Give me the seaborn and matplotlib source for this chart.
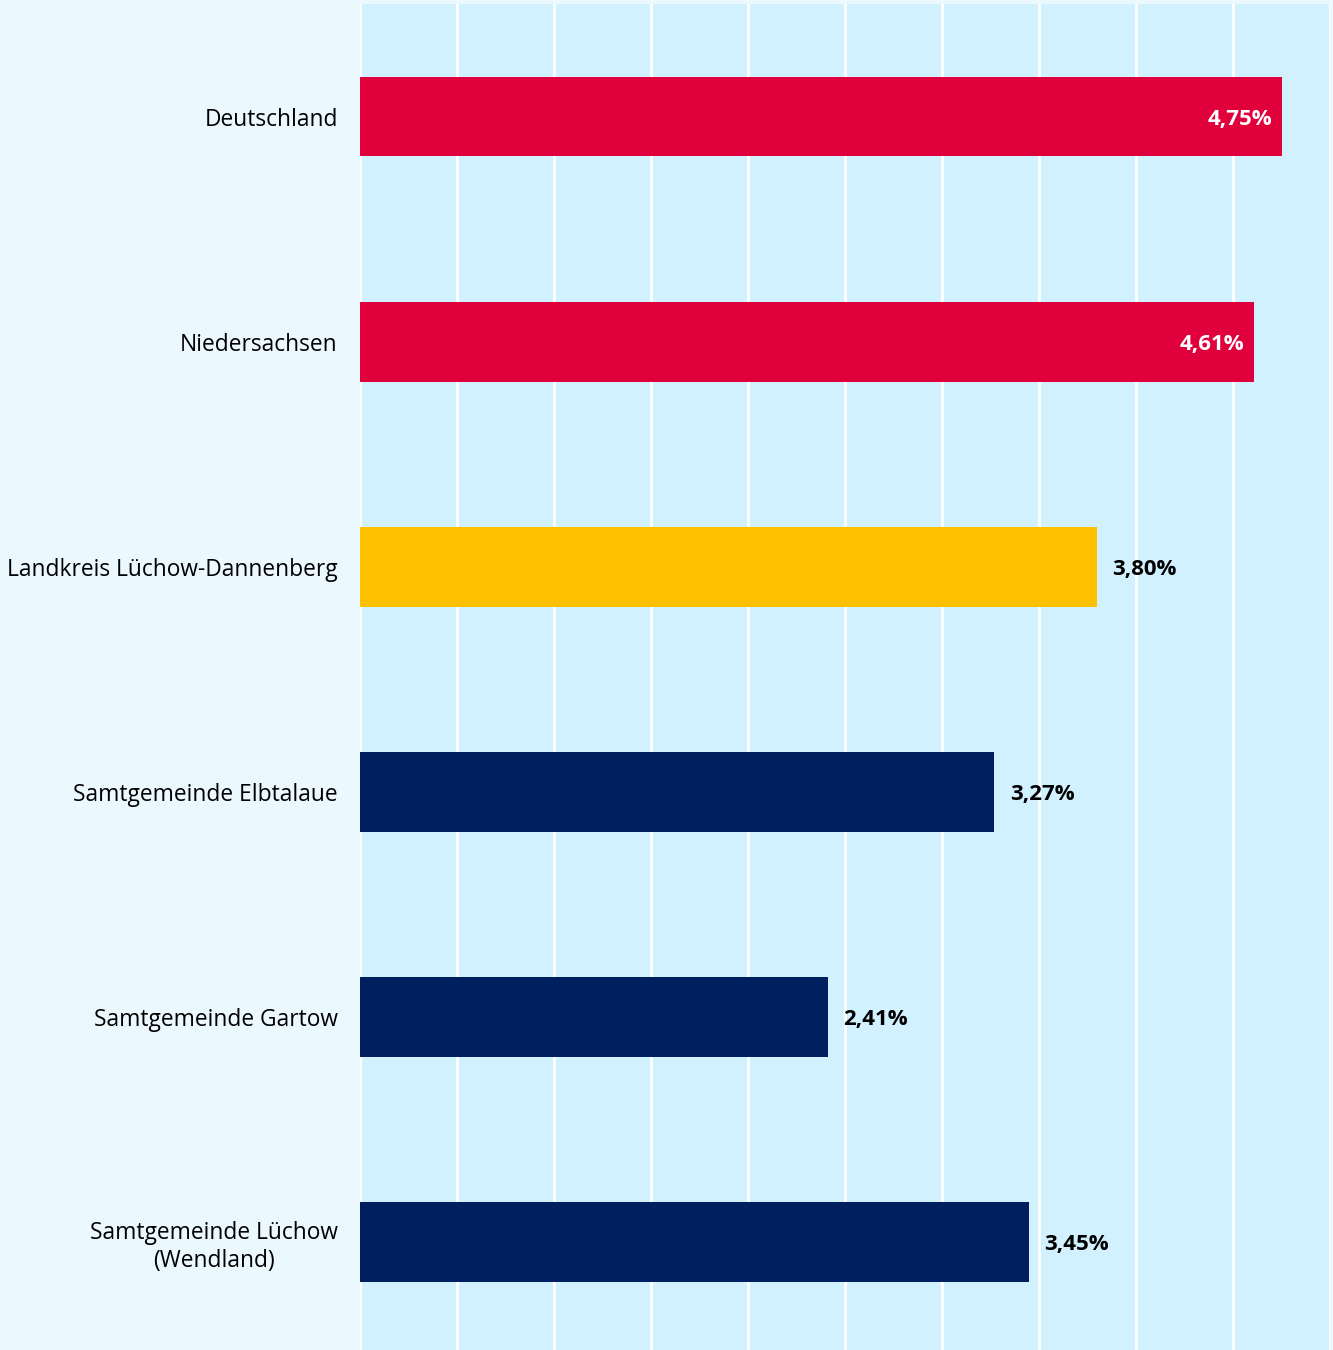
import pandas as pd
import matplotlib.pyplot as plt
import seaborn as sns

regionen = ["Deutschland", "Niedersachsen", "Landkreis Lüchow-Dannenberg",
            "Samtgemeinde Elbtalaue", "Samtgemeinde Gartow",
            "Samtgemeinde Lüchow\n(Wendland)"]
werte = [4.75, 4.61, 3.80, 3.27, 2.41, 3.45]
gruppe = ["land", "land", "kreis", "gemeinde", "gemeinde", "gemeinde"]
farben = {"land": "#e0003c", "kreis": "#ffc000", "gemeinde": "#001f5f"}

df = pd.DataFrame({"region": regionen, "wert": werte, "gruppe": gruppe})

sns.set_style("white")
plt.rcParams['font.family'] = ['Open Sans', 'DejaVu Sans']

fig = plt.figure(figsize=(13.33, 13.5), dpi=100, facecolor="#ebf8fe")
ax = fig.add_axes([360/1333, 0, 970/1333, 1346/1350])
ax.set_facecolor("#d2f1fe")

sns.barplot(data=df, x="wert", y="region", hue="gruppe", palette=farben,
            dodge=False, width=0.355, legend=False, ax=ax, saturation=1,
            linewidth=0)

ax.set_xlim(0, 5.0)
ax.set_ylim(5.48, -0.5)
ax.set_xticks([i * 0.5 for i in range(11)])
ax.xaxis.grid(True, color="white", linewidth=2)
ax.set_axisbelow(True)
ax.set_xticklabels([])
ax.tick_params(axis="x", length=0)
ax.tick_params(axis="y", length=0, labelsize=16.4, pad=16, labelcolor="black")
ax.set_xlabel("")
ax.set_ylabel("")
for t in ax.get_yticklabels():
    t.set_horizontalalignment("right")
    t.set_multialignment("center")
for s in ax.spines.values():
    s.set_visible(False)

# Werte an die Balken
for i, (w, g) in enumerate(zip(werte, gruppe)):
    txt = f"{w:.2f}".replace(".", ",") + "%"
    if g == "land":
        ax.annotate(txt, (w, i), xytext=(-7, 0), textcoords="offset points",
                    ha="right", va="center_baseline", color="white", fontsize=16, fontweight="bold")
    else:
        ax.annotate(txt, (w, i), xytext=(11, 0), textcoords="offset points",
                    ha="left", va="center_baseline", color="black", fontsize=16, fontweight="bold")

fig.savefig("out.png", dpi=100, facecolor=fig.get_facecolor())
